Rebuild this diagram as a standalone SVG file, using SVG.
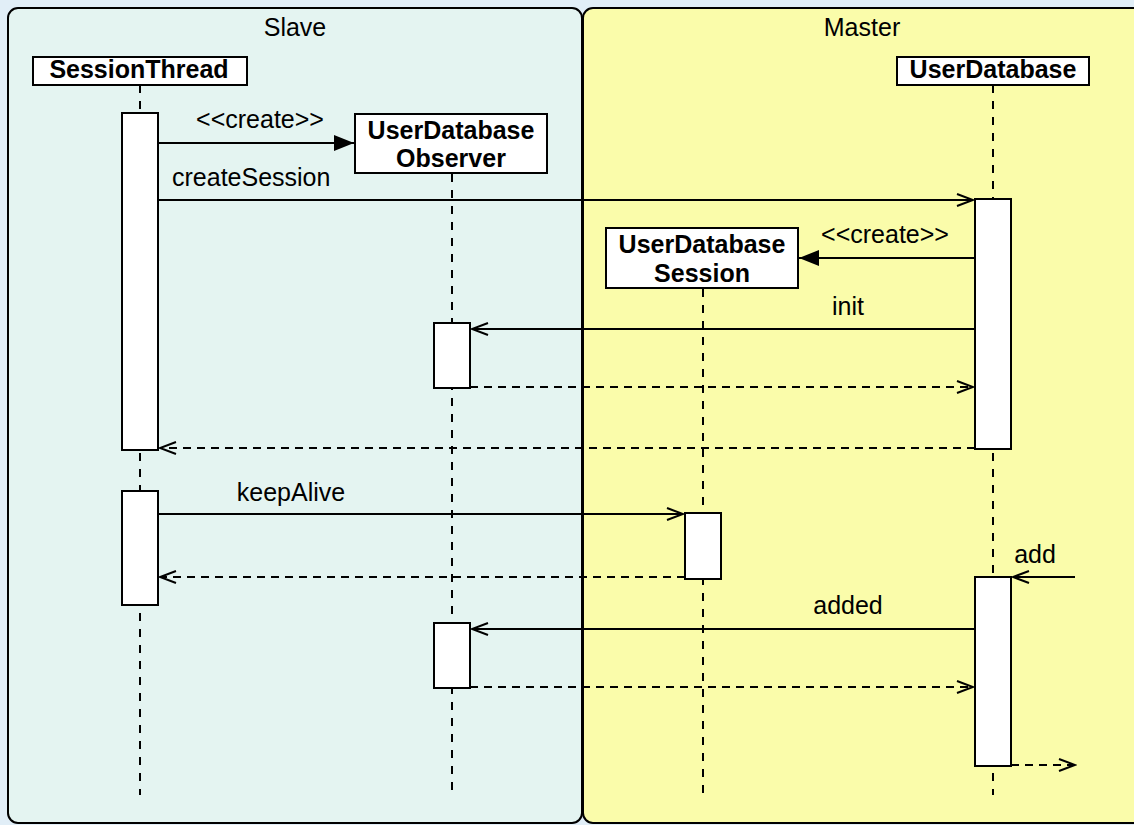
<svg xmlns="http://www.w3.org/2000/svg" width="1134" height="825" viewBox="0 0 1134 825">
<style>
text{font-family:"Liberation Sans",Arial,sans-serif;font-size:25px;fill:#000}
.b{font-weight:bold;text-anchor:middle}
.c{text-anchor:middle}
.box{fill:#fff;stroke:#000;stroke-width:2}
.life{stroke:#000;stroke-width:2;stroke-dasharray:8,8;fill:none}
.msg{stroke:#000;stroke-width:2;fill:none}
.ret{stroke:#000;stroke-width:2;fill:none;stroke-dasharray:8,6}
</style>
<defs>
<marker id="open" markerWidth="20" markerHeight="14" refX="18" refY="7" orient="auto" markerUnits="userSpaceOnUse"><path d="M2,1 L18,7 L2,13" fill="none" stroke="#000" stroke-width="2"/></marker>
<marker id="fill" markerWidth="22" markerHeight="18" refX="20" refY="9" orient="auto" markerUnits="userSpaceOnUse"><path d="M0,1 L20,9 L0,17 Z" fill="#000"/></marker>
</defs>
<rect x="0" y="0" width="1134" height="825" fill="#e1eef7"/>
<g id="frame-slave">
<rect x="8" y="8" width="574" height="815" rx="10" fill="#e4f4f1" stroke="#000" stroke-width="2"/>
<text x="295" y="36" class="c">Slave</text>
</g>
<g id="frame-master">
<rect x="583" y="8" width="570" height="815" rx="10" fill="#fafcaa" stroke="#000" stroke-width="2"/>
<text x="862" y="36" class="c">Master</text>
</g>
<g id="lifelines">
<line x1="140" y1="85" x2="140" y2="795" class="life"/>
<line x1="452" y1="174" x2="452" y2="795" class="life"/>
<line x1="703" y1="289" x2="703" y2="795" class="life"/>
<line x1="993" y1="85" x2="993" y2="795" class="life"/>
</g>
<g id="SessionThread">
<rect x="33" y="57" width="214" height="28" class="box"/>
<text x="139" y="78" class="b">SessionThread</text>
<rect x="122" y="113" width="36" height="337" class="box"/>
<rect x="122" y="491" width="36" height="114" class="box"/>
</g>
<g id="UserDatabaseObserver">
<rect x="355" y="114" width="192" height="59" class="box"/>
<text x="451" y="139" class="b">UserDatabase</text>
<text x="451" y="167" class="b">Observer</text>
<rect x="434" y="323" width="36" height="65" class="box"/>
<rect x="434" y="623" width="36" height="65" class="box"/>
</g>
<g id="UserDatabaseSession">
<rect x="606" y="228" width="192" height="60" class="box"/>
<text x="702" y="253" class="b">UserDatabase</text>
<text x="702" y="282" class="b">Session</text>
<rect x="685" y="513" width="36" height="66" class="box"/>
</g>
<g id="UserDatabase">
<rect x="897" y="57" width="192" height="28" class="box"/>
<text x="993" y="78" class="b">UserDatabase</text>
<rect x="975" y="199" width="36" height="250" class="box"/>
<rect x="975" y="577" width="36" height="189" class="box"/>
</g>
<g id="connectors">
<line x1="158" y1="143" x2="354" y2="143" class="msg" marker-end="url(#fill)"/>
<text x="260" y="128" class="c">&lt;&lt;create&gt;&gt;</text>
<line x1="158" y1="200" x2="973" y2="200" class="msg" marker-end="url(#open)"/>
<text x="172" y="186">createSession</text>
<line x1="975" y1="258" x2="799" y2="258" class="msg" marker-end="url(#fill)"/>
<text x="885" y="243" class="c">&lt;&lt;create&gt;&gt;</text>
<line x1="975" y1="329" x2="472" y2="329" class="msg" marker-end="url(#open)"/>
<text x="848" y="315" class="c">init</text>
<line x1="470" y1="387" x2="973" y2="387" class="ret" marker-end="url(#open)"/>
<line x1="975" y1="448" x2="160" y2="448" class="ret" marker-end="url(#open)"/>
<line x1="158" y1="514" x2="683" y2="514" class="msg" marker-end="url(#open)"/>
<text x="291" y="501" class="c">keepAlive</text>
<line x1="685" y1="577" x2="160" y2="577" class="ret" marker-end="url(#open)"/>
<line x1="1075" y1="577" x2="1013" y2="577" class="msg" marker-end="url(#open)"/>
<text x="1035" y="563" class="c">add</text>
<line x1="975" y1="629" x2="472" y2="629" class="msg" marker-end="url(#open)"/>
<text x="848" y="614" class="c">added</text>
<line x1="470" y1="687" x2="973" y2="687" class="ret" marker-end="url(#open)"/>
<line x1="1011" y1="765" x2="1075" y2="765" class="ret" marker-end="url(#open)"/>
</g>
</svg>
